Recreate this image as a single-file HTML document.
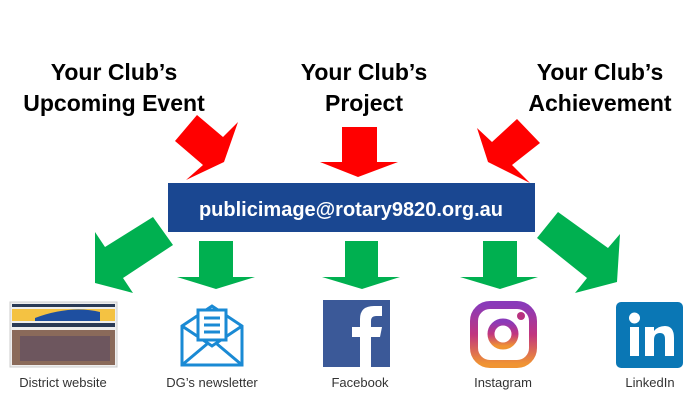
<!DOCTYPE html>
<html><head><style>
body{margin:0;width:699px;height:402px;background:#fff;position:relative;overflow:hidden;font-family:"Liberation Sans",sans-serif}
.t{position:absolute;font-weight:bold;font-size:23px;line-height:31px;text-align:center;color:#000;width:220px}
.l{position:absolute;font-size:13px;color:#333;text-align:center;width:120px;top:375px}
</style></head><body>
<div class="t" style="left:4px;top:57px">Your Club’s<br>Upcoming Event</div>
<div class="t" style="left:254px;top:57px">Your Club’s<br>Project</div>
<div class="t" style="left:490px;top:57px">Your Club’s<br>Achievement</div>
<svg width="699" height="402" style="position:absolute;left:0;top:0">
<g fill="#ff0000">
<polygon points="197,115 223,137 238,122 224,162 186,180 203,165 175,141"/>
<polygon points="342,127 377,127 377,162 398,162 358,177 320,162 342,162"/>
<polygon points="517,119 492,142 477,128 488,162 530,183 512,165 540,143"/>
</g>
<rect x="168" y="183" width="367" height="49" fill="#1a4791"/>
<text x="351" y="216" fill="#fff" font-family="Liberation Sans" font-weight="bold" font-size="20" text-anchor="middle">publicimage@rotary9820.org.au</text>
<g fill="#00b050">
<polygon points="153,217 173,245 123,278 133,293 95,283 95,232 105,247"/>
<polygon points="199,241 233,241 233,277 255,277 216,289 177,277 199,277"/>
<polygon points="345,241 378,241 378,277 400,277 362,289 322,277 345,277"/>
<polygon points="483,241 517,241 517,277 538,277 500,289 460,277 483,277"/>
<polygon points="558,212 608,248 620,234 617,282 575,293 587,278 537,238"/>
</g>
<rect x="10" y="302" width="107" height="65" fill="#eee" stroke="#ccc"/>
<rect x="12" y="304" width="103" height="3" fill="#2a3a55"/>
<rect x="12" y="309" width="103" height="12" fill="#f4c242"/>
<path d="M35 318 Q70 305 100 312 L100 321 L35 321Z" fill="#1e4fa0"/>
<rect x="12" y="323" width="103" height="4" fill="#2a3a55"/>
<rect x="12" y="330" width="103" height="35" fill="#8a6a5a"/>
<rect x="20" y="336" width="90" height="25" fill="#5a4a60" opacity=".6"/>
<g fill="none" stroke="#1a8ad4" stroke-width="3">
<path d="M182 326 L212 306 L242 326 L242 365 L182 365Z"/>
<path d="M182 326 L212 346 L242 326"/><path d="M182 365 L207 344 M242 365 L217 344"/>
<rect x="198" y="310" width="28" height="30" fill="#fff"/>
<path d="M204 318h16M204 325h16M204 332h16"/>
</g>
<rect x="323" y="300" width="67" height="67" fill="#3b5998"/>
<path d="M360 367 V337 H352 V327 H360 V319 Q360 306 374 306 H382 V316 H376 Q371 316 371 321 V327 H382 L380 337 H371 V367Z" fill="#fff"/>
<defs><linearGradient id="ig" x1="0" y1="0" x2="0" y2="1"><stop offset="0" stop-color="#8a3ab9"/><stop offset=".5" stop-color="#c1357f"/><stop offset="1" stop-color="#f09433"/></linearGradient></defs>
<rect x="474" y="305" width="59" height="59" rx="16" fill="none" stroke="url(#ig)" stroke-width="8"/>
<circle cx="503" cy="334" r="12" fill="none" stroke="url(#ig)" stroke-width="7"/>
<circle cx="521" cy="316" r="4" fill="#b8327f"/>
<rect x="616" y="302" width="67" height="66" rx="5" fill="#0a77b5"/>
<rect x="630" y="327" width="9" height="29" fill="#fff"/><circle cx="634.5" cy="318" r="5.5" fill="#fff"/>
<path d="M645 327 H654 V331 Q658 326 665 326 Q674 326 674 338 V356 H665 V339 Q665 333 660 333 Q654 333 654 340 V356 H645Z" fill="#fff"/>
</svg>
<div class="l" style="left:3px">District website</div>
<div class="l" style="left:152px">DG’s newsletter</div>
<div class="l" style="left:300px">Facebook</div>
<div class="l" style="left:443px">Instagram</div>
<div class="l" style="left:590px">LinkedIn</div>
</body></html>
